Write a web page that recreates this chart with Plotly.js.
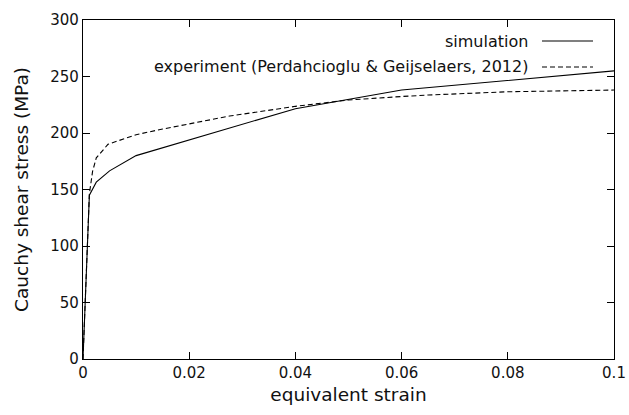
<!DOCTYPE html>
<html>
<head>
<meta charset="utf-8">
<script src="https://cdn.plot.ly/plotly-3.0.1.min.js"></script>
<style>html,body{margin:0;padding:0;background:#fff;}#chart{width:629px;height:415px;}</style>
</head>
<body>
<div id="chart"></div>
<script>
const simStrain = [0, 0.0012, 0.0025, 0.005, 0.01, 0.04, 0.06, 0.1];
const simStress = [0, 145, 156.5, 166.5, 180, 221.5, 238, 255];
const expStrain = [0, 0.0012, 0.0018, 0.0025, 0.0047, 0.01, 0.015, 0.02, 0.0276, 0.04, 0.05, 0.06, 0.065, 0.08, 0.09, 0.1];
const expStress = [0, 146, 166, 178, 190, 198.5, 203.5, 208, 215, 223.6, 229.2, 232.3, 233.6, 236.5, 237.5, 238];
const xTickVals = [0, 0.02, 0.04, 0.06, 0.08, 0.1];
const xTickText = ["0", "0.02", "0.04", "0.06", "0.08", "0.1"];
const yTickVals = [0, 50, 100, 150, 200, 250, 300];
const yTickText = ["0", "50", "100", "150", "200", "250", "300"];
const legendNames = ["simulation", "experiment (Perdahcioglu & Geijselaers, 2012)"];

const font = "DejaVu Sans, Liberation Sans, Arial, sans-serif";

const traces = [
  {x: simStrain, y: simStress, mode: "lines", name: legendNames[0],
   line: {color: "#000", width: 1.1}, showlegend: false},
  {x: expStrain, y: expStress, mode: "lines", name: legendNames[1],
   line: {color: "#000", width: 1.1, dash: "5px,3px"}, showlegend: false}
];

const axisCommon = {
  showline: true, linecolor: "#000", linewidth: 1.2, mirror: "ticks",
  ticks: "inside", ticklen: 7, tickcolor: "#000", tickwidth: 1,
  showgrid: false, zeroline: false, tickmode: "array",
  tickfont: {family: font, size: 15, color: "#111"}
};

const L = 83, R = 614, T = 20, B = 359;
const px = v => (v - L) / (R - L);
const py = v => (B - v) / (B - T);

const layout = {
  width: 629, height: 415,
  margin: {l: L, r: 629 - R, t: T, b: 415 - B},
  paper_bgcolor: "#fff", plot_bgcolor: "#fff",
  showlegend: false,
  xaxis: Object.assign({}, axisCommon, {
    range: [0, 0.1], tickvals: xTickVals, ticktext: xTickText,
    title: {text: "equivalent strain", font: {family: font, size: 18.5, color: "#111"}, standoff: 6}
  }),
  yaxis: Object.assign({}, axisCommon, {
    range: [0, 300], tickvals: yTickVals, ticktext: yTickText, ticklabelstandoff: 0,
    title: {text: "Cauchy shear stress (MPa)", font: {family: font, size: 18.5, color: "#111"}, standoff: 16}
  }),
  annotations: [
    {xref: "paper", yref: "paper", x: px(530), y: py(41), xanchor: "right", yanchor: "middle",
     text: legendNames[0], showarrow: false, font: {family: font, size: 16, color: "#111"}},
    {xref: "paper", yref: "paper", x: px(530), y: py(67), xanchor: "right", yanchor: "middle",
     text: legendNames[1], showarrow: false, font: {family: font, size: 16, color: "#111"}}
  ],
  shapes: [
    {type: "line", xref: "paper", yref: "paper", x0: px(542), x1: px(593),
     y0: py(41), y1: py(41), line: {color: "#000", width: 1.1}},
    {type: "line", xref: "paper", yref: "paper", x0: px(542), x1: px(593),
     y0: py(67), y1: py(67), line: {color: "#000", width: 1.1, dash: "5px,3px"}}
  ]
};

Plotly.newPlot("chart", traces, layout, {displayModeBar: false, staticPlot: true});
</script>
</body>
</html>
